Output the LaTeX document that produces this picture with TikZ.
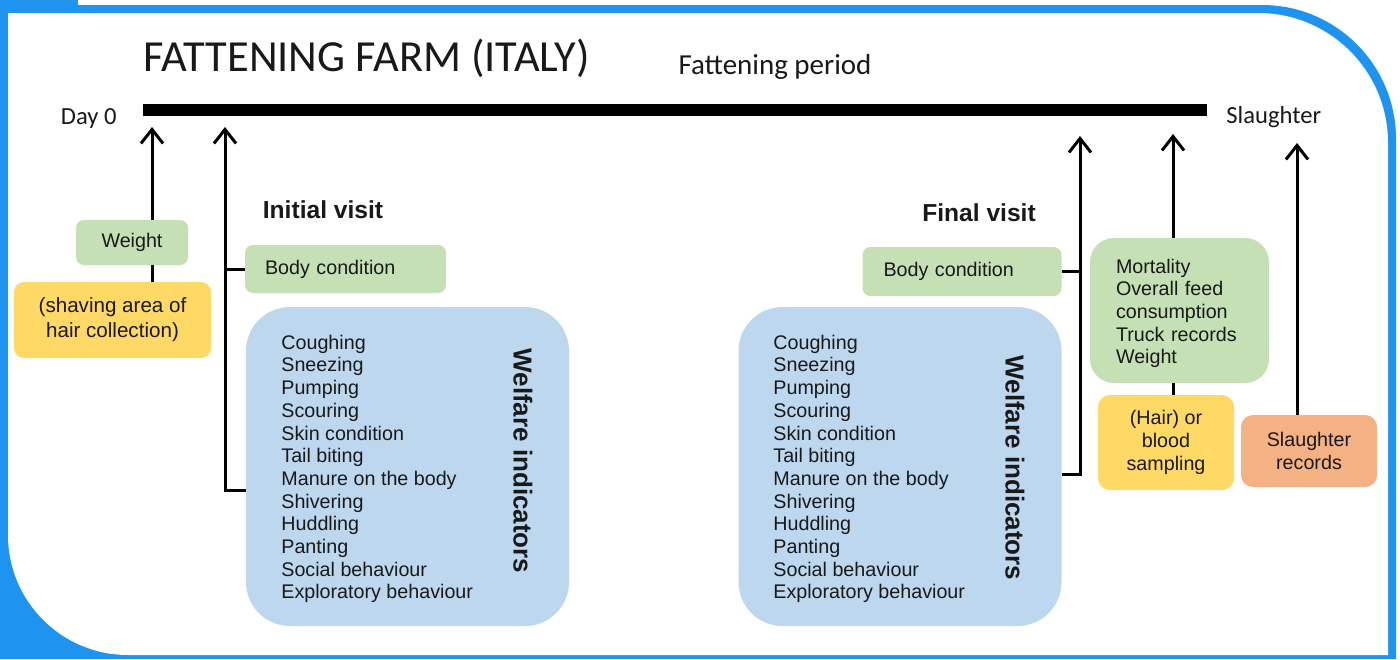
\documentclass[tikz,border=0pt]{standalone}
\usepackage{fontspec}
\setmainfont{Liberation Sans}
\newfontfamily\calibri{Carlito}
\usepackage{tikz}
\usetikzlibrary{arrows.meta}

\definecolor{frameblue}{RGB}{30,148,240}
\definecolor{boxgreen}{HTML}{C5E0B4}
\definecolor{boxblue}{HTML}{BDD7EE}
\definecolor{boxyellow}{HTML}{FFD966}
\definecolor{boxorange}{HTML}{F4B183}

\newcommand\welfarelist{Coughing\\Sneezing\\Pumping\\Scouring\\Skin condition\\Tail biting\\
  Manure on the body\\Shivering\\Huddling\\Panting\\Social behaviour\\Exploratory behaviour}

\begin{document}
\begin{tikzpicture}[x=0.5pt,y=-0.5pt,>={Straight Barb[length=7pt,width=11pt]},
                    every node/.style={font=\fontsize{9.85}{11.35}\selectfont,text=black!90},
                    link/.style={line width=1.5pt},
                    box/.style={rectangle,rounded corners=4pt,inner sep=0pt},
                    green box/.style={box,fill=boxgreen},
                    welfare box/.style={box,fill=boxblue,rounded corners=22pt,
                                        minimum width=161.5pt,minimum height=159.5pt},
                    side title/.style={font=\fontsize{13}{15}\selectfont\bfseries,rotate=-90},
                    visit/.style={font=\fontsize{12.3}{14}\selectfont\bfseries}]

  \useasboundingbox (0,0) rectangle (1400,659);

  % frame
  \fill[frameblue] (0,0) -- (78,0) -- (78,5) -- (1262,5)
    arc[start angle=-90,end angle=0,radius=134] -- (1396,659) -- (0,659) -- cycle;
  \fill[white] (8,13) -- (1258,13) arc[start angle=-90,end angle=0,radius=130]
    -- (1388,655) -- (128,655) arc[start angle=90,end angle=180,radius=120] -- cycle;

  % headings and time line
  \node[anchor=west,inner sep=0pt,font=\calibri\fontsize{22.2}{25}\selectfont] (title) at (143,58) {FATTENING FARM (ITALY)};
  \node[font=\calibri\fontsize{14.5}{17}\selectfont] (period) at (775,67) {Fattening period};
  \coordinate (d0) at (143,110);
  \coordinate (end) at (1207,110);
  \draw[line width=6pt] (d0) -- (end);
  \node[anchor=east,inner sep=0pt,font=\calibri\fontsize{12.3}{14}\selectfont] (day0) at (117,118) {Day 0};
  \node[anchor=west,inner sep=0pt,font=\calibri\fontsize{12.3}{14}\selectfont] (slaughter) at (1226,117) {Slaughter};

  % arrow tips on the time line
  \coordinate (t1) at (152,127);
  \coordinate (t2) at (225,127);
  \coordinate (t3) at (1080,136);
  \coordinate (t4) at (1173,134);
  \coordinate (t5) at (1297,143);

  % day 0
  \node[green box,minimum width=56pt,minimum height=22.5pt] (w) at (132,242.5) {Weight};
  \node[box,fill=boxyellow,rounded corners=5pt,minimum width=98.5pt,minimum height=38pt,align=center,
        font=\fontsize{10.3}{12.5}\selectfont] (hc) at (112.5,320) {(shaving area of\\hair collection)};

  % initial visit
  \node[visit] (iv) at (323,210) {Initial visit};
  \node[green box,text width=80.5pt,inner xsep=10pt,minimum height=24pt,align=left] (bcl) at (345.5,269) {Body condition};
  \node[welfare box] (wl) at (407.5,466.5) {};
  \node[anchor=west,align=left,inner sep=0pt] (wll) at (281,469) {\welfarelist};
  \node[side title] (wlt) at (523,461) {Welfare indicators};

  % final visit
  \node[visit] (fv) at (979,213) {Final visit};
  \node[green box,text width=78.5pt,inner xsep=10.5pt,minimum height=24.5pt,align=left] (bcr) at (962,271.5) {Body condition};
  \node[welfare box] (wr) at (900,466.5) {};
  \node[anchor=west,align=left,inner sep=0pt] (wrl) at (773,469) {\welfarelist};
  \node[side title] (wrt) at (1015,468) {Welfare indicators};

  % slaughter
  \node[green box,rounded corners=12pt,text width=63.5pt,inner xsep=13pt,minimum height=72.5pt,align=left]
    (mo) at (1179.5,310.5) {\rule{0pt}{10pt}Mortality\\Overall feed\\consumption\\Truck records\\Weight};
  \node[box,fill=boxyellow,rounded corners=6pt,minimum width=68pt,minimum height=47.5pt,align=center]
    (hs) at (1166,442.5) {(Hair) or\\blood\\sampling};
  \node[box,fill=boxorange,rounded corners=6pt,minimum width=68pt,minimum height=36pt,align=center]
    (sr) at (1309,451) {Slaughter\\records};

  % connectors
  \draw[link,->] (w.north -| t1) -- (t1);
  \draw[link] (w.south -| t1) -- (hc.north -| t1);
  \draw[link,->] (wl.west |- 0,490) -| (t2);
  \draw[link] (bcl.west) -- (bcl.west -| t2);
  \draw[link,->] (wr.east |- 0,474) -| (t3);
  \draw[link] (bcr.east) -- (bcr.east -| t3);
  \draw[link,->] (mo.north -| t4) -- (t4);
  \draw[link] (mo.south -| t4) -- (hs.north -| t4);
  \draw[link,->] (sr.north -| t5) -- (t5);
\end{tikzpicture}
\end{document}
